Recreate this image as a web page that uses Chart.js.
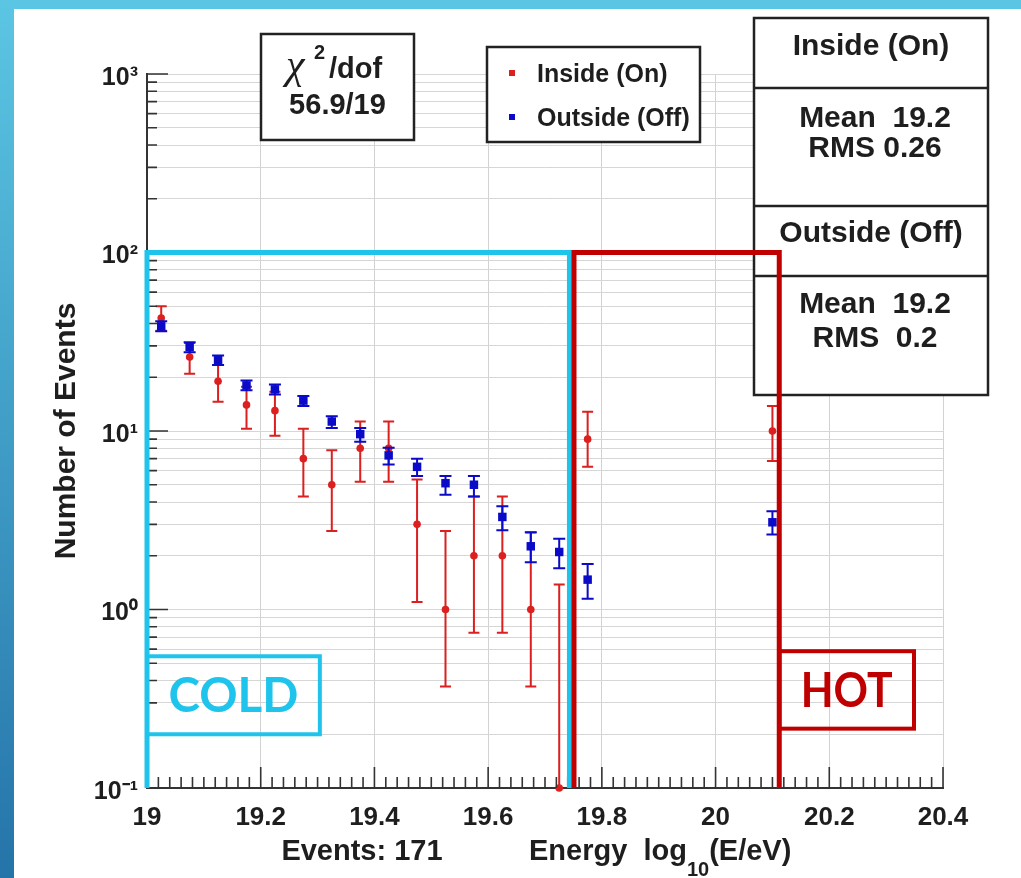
<!DOCTYPE html>
<html>
<head>
<meta charset="utf-8">
<script src="https://cdn.jsdelivr.net/npm/chart.js@4.4.1/dist/chart.umd.min.js"></script>
<style>
  html, body { margin: 0; padding: 0; background: #fff; }
  #wrap { position: relative; width: 1021px; height: 878px; overflow: hidden; }
  #chart { position: absolute; left: 0; top: 0; }
  #topbar { position: absolute; left: 0; top: 0; width: 1021px; height: 9px; background: #5bc6e3; }
  #sidebar { position: absolute; left: 0; top: 0; width: 14px; height: 878px; background: linear-gradient(#5bc6e3, #2574a9); }
</style>
</head>
<body>
<div id="wrap">
  <canvas id="chart" width="1021" height="878"></canvas>
  <div id="topbar"></div>
  <div id="sidebar"></div>
</div>
<script>
// bin centres, log10(E/eV)
const binCenters = [19.025, 19.075, 19.125, 19.175, 19.225, 19.275, 19.325, 19.375, 19.425,
                    19.475, 19.525, 19.575, 19.625, 19.675, 19.725, 19.775, 20.1];

// Inside (On) counts and error bar ends (bin 19.725 is empty, drawn on the axis floor)
const insideCounts = [43, 26, 19, 14, 13, 7, 5, 8, 8, 3, 1, 2, 2, 1, 0.1, 9, 10];
const insideLow    = [36.4, 20.9, 14.6, 10.3, 9.4, 4.3, 2.75, 5.2, 5.2, 1.1, 0.37, 0.74, 0.74, 0.37, 0.1, 6.3, 6.8];
const insideHigh   = [50, 31.1, 23.4, 17.7, 16.6, 10.3, 7.8, 11.3, 11.3, 5.35, 2.75, 4.3, 4.3, 2.7, 1.38, 12.8, 13.8];

// Outside (Off), scaled
const outsideCounts = [38.6, 29.5, 24.9, 18.0, 17.1, 14.8, 11.3, 9.6, 7.3, 6.3, 5.1, 5.0, 3.3, 2.26, 2.1, 1.47, 3.08];
const outsideLow    = [36.2, 27.6, 23.4, 16.9, 16.0, 13.8, 10.4, 8.7, 6.5, 5.6, 4.4, 4.3, 2.78, 1.84, 1.70, 1.15, 2.63];
const outsideHigh   = [41.2, 31.4, 26.5, 19.2, 18.2, 15.7, 12.1, 10.4, 8.05, 7.0, 5.6, 5.6, 3.79, 2.71, 2.49, 1.80, 3.55];

// axis ticks
const xTickValues = [19, 19.2, 19.4, 19.6, 19.8, 20, 20.2, 20.4];
const yDecades = [0.1, 1, 10, 100, 1000];
const yTickLabels = ['10\u207B\u00B9', '10\u2070', '10\u00B9', '10\u00B2', '10\u00B3'];

const RED = '#dc1f1f';
const BLUE = '#0a0ac8';
const CYAN = '#1fc4ec';
const HOTRED = '#c00000';
const TEXT = '#1e1e1e';
const FONT = '"Liberation Sans", Arial, sans-serif';

// minor log grid: 1..9 x each decade
const yGridValues = [];
yDecades.slice(0, -1).forEach(d => {
  for (let m = 1; m <= 9; m++) yGridValues.push(m === 1 ? d : d * m);
});
yGridValues.push(1000);

function errorBars(chart, index) {
  const ds = chart.data.datasets[index];
  const xs = chart.scales.x, ys = chart.scales.y, ctx = chart.ctx;
  const cap = ds.capHalf;
  ctx.save();
  ctx.strokeStyle = ds.borderColor;
  ctx.lineWidth = 2;
  ds.data.forEach((p, i) => {
    const px = xs.getPixelForValue(p.x);
    const top = ys.getPixelForValue(ds.errHigh[i]);
    const bot = ys.getPixelForValue(ds.errLow[i]);
    ctx.beginPath();
    ctx.moveTo(px, top); ctx.lineTo(px, bot);
    ctx.moveTo(px - cap, top); ctx.lineTo(px + cap, top);
    if (ds.errLow[i] > 0.1) { ctx.moveTo(px - cap, bot); ctx.lineTo(px + cap, bot); }
    ctx.stroke();
  });
  ctx.restore();
}

function label(ctx, str, x, y, size, align, color) {
  ctx.font = 'bold ' + size + 'px ' + FONT;
  ctx.fillStyle = color || TEXT;
  ctx.textAlign = align || 'left';
  ctx.textBaseline = 'alphabetic';
  ctx.fillText(str, x, y);
  return ctx.measureText(str).width;
}

function box(ctx, x, y, w, h) {
  ctx.fillStyle = '#fff';
  ctx.fillRect(x, y, w, h);
  ctx.strokeStyle = '#222';
  ctx.lineWidth = 2.5;
  ctx.strokeRect(x, y, w, h);
}

const overlay = {
  id: 'overlay',
  beforeDatasetDraw(chart, args) {
    errorBars(chart, args.index);
  },
  afterDatasetsDraw(chart) {
    const ctx = chart.ctx, xs = chart.scales.x, ys = chart.scales.y;
    const area = chart.chartArea;
    ctx.save();

    // inward ticks
    ctx.strokeStyle = '#333';
    ctx.lineWidth = 1.6;
    ctx.beginPath();
    yGridValues.forEach(v => {
      const py = ys.getPixelForValue(v);
      const len = yDecades.includes(v) ? 21 : 10;
      ctx.moveTo(area.left, py); ctx.lineTo(area.left + len, py);
    });
    for (let k = 0; k <= 70; k++) {
      const px = xs.getPixelForValue(19 + k * 0.02);
      const len = k % 10 === 0 ? 21 : 11;
      ctx.moveTo(px, area.bottom); ctx.lineTo(px, area.bottom - len);
    }
    ctx.stroke();

    // chi2 box
    box(ctx, 261, 34, 153, 106);
    ctx.font = 'italic 42px "Liberation Serif", serif';
    ctx.fillStyle = TEXT;
    ctx.textAlign = 'left';
    ctx.fillText('\u03C7', 286, 78);
    label(ctx, '2', 314, 59, 20);
    label(ctx, '/dof', 329, 78, 29);
    label(ctx, '56.9/19', 337.5, 113.5, 29, 'center');

    // legend
    box(ctx, 487, 47, 213, 95);
    ctx.fillStyle = RED;
    ctx.fillRect(509, 70, 6, 6);
    ctx.fillStyle = BLUE;
    ctx.fillRect(509, 114, 6, 6);
    label(ctx, 'Inside (On)', 537, 81.5, 25);
    label(ctx, 'Outside (Off)', 537, 126, 25);

    // stats box
    box(ctx, 754, 18, 234, 377);
    ctx.beginPath();
    [88, 206, 276].forEach(y => { ctx.moveTo(754, y); ctx.lineTo(988, y); });
    ctx.stroke();
    label(ctx, 'Inside (On)', 871, 55, 30, 'center');
    label(ctx, 'Mean  19.2', 875, 126.5, 30, 'center');
    label(ctx, 'RMS 0.26', 875, 157, 30, 'center');
    label(ctx, 'Outside (Off)', 871, 242, 30, 'center');
    label(ctx, 'Mean  19.2', 875, 313, 30, 'center');
    label(ctx, 'RMS  0.2', 875, 346.5, 30, 'center');

    // COLD / HOT regions
    const region = (x0, x1, y0, y1, color, w) => {
      ctx.strokeStyle = color;
      ctx.lineWidth = w;
      ctx.lineJoin = 'miter';
      ctx.beginPath();
      ctx.moveTo(xs.getPixelForValue(x0), ys.getPixelForValue(y0));
      ctx.lineTo(xs.getPixelForValue(x0), ys.getPixelForValue(y1));
      ctx.lineTo(xs.getPixelForValue(x1), ys.getPixelForValue(y1));
      ctx.lineTo(xs.getPixelForValue(x1), ys.getPixelForValue(y0));
      ctx.stroke();
    };
    const tag = (x0, x1, y0, y1, color, str, maxW) => {
      const l = xs.getPixelForValue(x0), r = xs.getPixelForValue(x1);
      const t = ys.getPixelForValue(y1), b = ys.getPixelForValue(y0);
      ctx.strokeStyle = color;
      ctx.lineWidth = 4;
      ctx.strokeRect(l, t, r - l, b - t);
      ctx.font = 'bold 48px Lato, "Open Sans", sans-serif';
      ctx.fillStyle = color;
      ctx.textAlign = 'center';
      ctx.textBaseline = 'alphabetic';
      ctx.fillText(str, (l + r) / 2, (t + b) / 2 + 17, maxW);
    };
    region(19.0, 19.743, 0.1, 100, CYAN, 5);
    region(19.751, 20.112, 0.1, 100, HOTRED, 5);
    tag(19.0, 19.304, 0.2, 0.547, CYAN, 'COLD', 130);
    tag(20.112, 20.349, 0.215, 0.584, HOTRED, 'HOT', 92);

    // x axis captions
    label(ctx, 'Events: 171', 362, 860, 29, 'center');
    let x = 529;
    x += label(ctx, 'Energy  log', x, 860, 29);
    x += label(ctx, '10', x, 876, 20);
    label(ctx, '(E/eV)', x, 860, 29);

    ctx.restore();
  }
};

Chart.defaults.font.family = FONT;
Chart.defaults.font.weight = 'bold';
Chart.defaults.color = TEXT;

new Chart(document.getElementById('chart'), {
  type: 'scatter',
  data: {
    datasets: [
      {
        label: 'Inside (On)',
        data: binCenters.map((x, i) => ({ x: x, y: insideCounts[i] })),
        errLow: insideLow,
        errHigh: insideHigh,
        capHalf: 5.5,
        pointStyle: 'circle',
        pointRadius: 3.8,
        backgroundColor: RED,
        borderColor: RED,
        borderWidth: 0,
        order: 2,
        clip: 12
      },
      {
        label: 'Outside (Off)',
        data: binCenters.map((x, i) => ({ x: x, y: outsideCounts[i] })),
        errLow: outsideLow,
        errHigh: outsideHigh,
        capHalf: 6,
        pointStyle: 'rect',
        pointRadius: 6,
        backgroundColor: BLUE,
        borderColor: BLUE,
        borderWidth: 0,
        order: 1,
        clip: 12
      }
    ]
  },
  options: {
    responsive: false,
    animation: false,
    events: [],
    layout: { padding: { left: 49, top: 74, right: 78, bottom: 0 } },
    plugins: { legend: { display: false }, tooltip: { enabled: false } },
    scales: {
      x: {
        type: 'linear',
        min: 19,
        max: 20.4,
        afterBuildTicks: s => { s.ticks = xTickValues.map(v => ({ value: v })); },
        afterFit: s => { s.height = 90; },
        ticks: {
          padding: 14,
          autoSkip: false,
          maxRotation: 0,
          color: TEXT,
          font: { size: 26, weight: 'bold' },
          callback: v => String(Math.round(v * 10) / 10)
        },
        grid: { color: '#d2d2d2', lineWidth: 1, drawTicks: false },
        border: { color: '#333', width: 2 }
      },
      y: {
        type: 'logarithmic',
        min: 0.1,
        max: 1000,
        afterBuildTicks: s => { s.ticks = yGridValues.map(v => ({ value: v })); },
        afterFit: s => { s.width = 98; },
        ticks: {
          padding: 9,
          labelOffset: 4,
          autoSkip: false,
          color: TEXT,
          font: { size: 25, weight: 'bold' },
          callback: v => {
            const k = yDecades.indexOf(v);
            return k >= 0 ? yTickLabels[k] : '';
          }
        },
        grid: { color: '#d6d6d6', lineWidth: 1, drawTicks: false },
        border: { color: '#333', width: 2 },
        title: {
          display: true,
          text: 'Number of Events',
          color: TEXT,
          padding: 0,
          font: { size: 30, weight: 'bold' }
        }
      }
    }
  },
  plugins: [overlay]
});
</script>
</body>
</html>
